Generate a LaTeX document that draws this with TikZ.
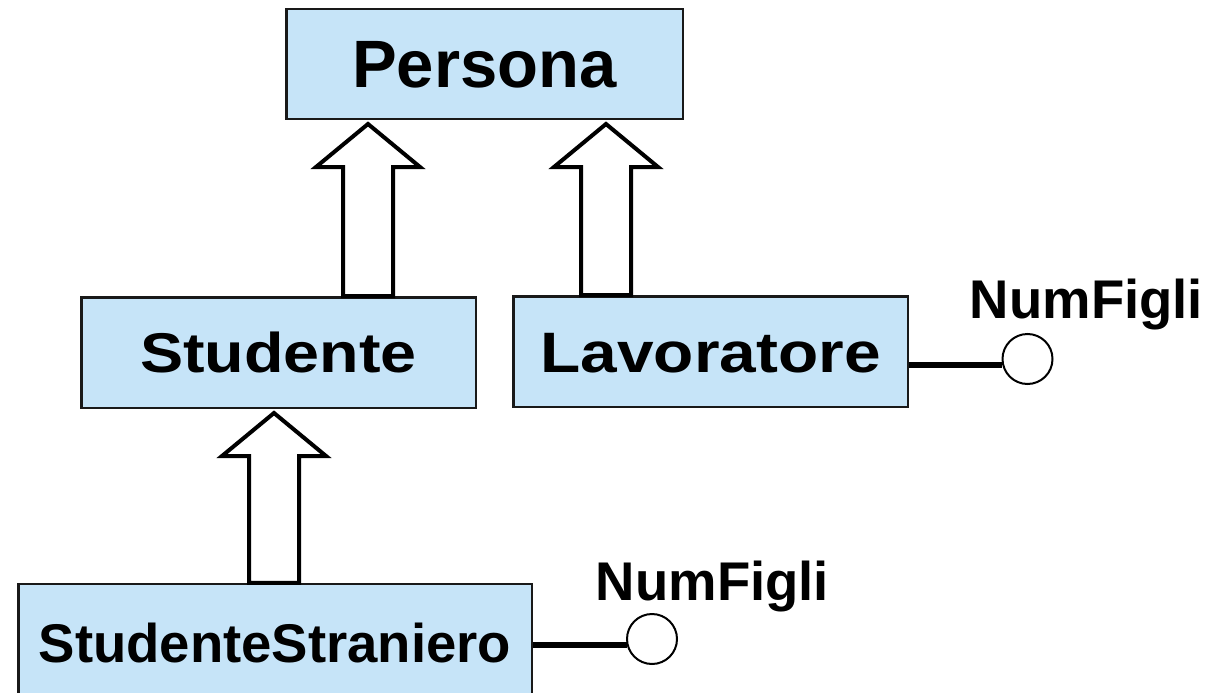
\documentclass[tikz,border=0pt]{standalone}
\usepackage{fontspec}
\usepackage{graphicx}
\setmainfont{Liberation Sans}
\usetikzlibrary{calc}
\definecolor{boxfill}{RGB}{198,228,248}

% hollow block arrow from #1 (tail) up to #2 (tip)
\newcommand\isaarrow[2]{%
  \draw[isa] let \p1=(#1), \p2=(#2) in
    (\x1-25pt,\y1) -- (\x1-25pt,\y2-43pt) -- (\x1-52pt,\y2-43pt) --
    (\x2,\y2) -- (\x1+52pt,\y2-43pt) -- (\x1+25pt,\y2-43pt) --
    (\x1+25pt,\y1) -- cycle;}

\begin{document}
\begin{tikzpicture}[x=1pt,y=-1pt,
  entity/.style={draw=black!90, line width=2.5pt, fill=boxfill, inner sep=0pt,
    text depth=0pt, font=\bfseries},
  attr/.style={draw=black, line width=2pt, circle, fill=white,
    minimum size=50pt, inner sep=0pt},
  attrlabel/.style={anchor=base, inner sep=0pt,
    font=\bfseries\fontsize{54.5}{54.5}\selectfont},
  attrlink/.style={line width=6pt, draw=black},
  isa/.style={draw=black, line width=4pt, fill=white, line join=miter}
]
\useasboundingbox (0,0) rectangle (1207,693);

% entities
\node[entity, minimum width=396.5pt, minimum height=109.5pt, text height=48pt]
  (persona) at (484.5,64) {\fontsize{67}{67}\selectfont Persona};
\node[entity, minimum width=394.5pt, minimum height=110.5pt, text height=40pt]
  (studente) at (278.5,352.5) {\scalebox{1.155}[1]{\fontsize{56}{56}\selectfont Studente}};
\node[entity, minimum width=394.5pt, minimum height=110.5pt, text height=41pt]
  (lavoratore) at (710.5,351.5) {\scalebox{1.155}[1]{\fontsize{57}{57}\selectfont Lavoratore}};
\node[entity, minimum width=513.5pt, minimum height=117pt, text height=39pt]
  (straniero) at (275,642.5) {\fontsize{54.5}{54.5}\selectfont StudenteStraniero};

% generalisation arrows
\coordinate (s1) at ([xshift=89.5pt]studente.north);
\coordinate (t1) at ([yshift=-4pt]s1 |- persona.south);
\coordinate (s2) at ([xshift=-104.5pt]lavoratore.north);
\coordinate (t2) at ([yshift=-4pt]s2 |- persona.south);
\coordinate (s3) at ([xshift=-1pt]straniero.north);
\coordinate (t3) at ([yshift=-4pt]s3 |- studente.south);
\isaarrow{s1}{t1}
\isaarrow{s2}{t2}
\isaarrow{s3}{t3}

% attributes
\node[attr] (c1) at (1027.5,359) {};
\node[attr] (c2) at (652,639) {};
\draw[attrlink] (lavoratore.east |- c1.194) -- (c1.194);
\draw[attrlink] (straniero.east |- c2.194) -- (c2.194);
\node[attrlabel] (n1) at (1086.5,318) {NumFigli};
\node[attrlabel] (n2) at (712.5,600) {NumFigli};
\end{tikzpicture}
\end{document}
